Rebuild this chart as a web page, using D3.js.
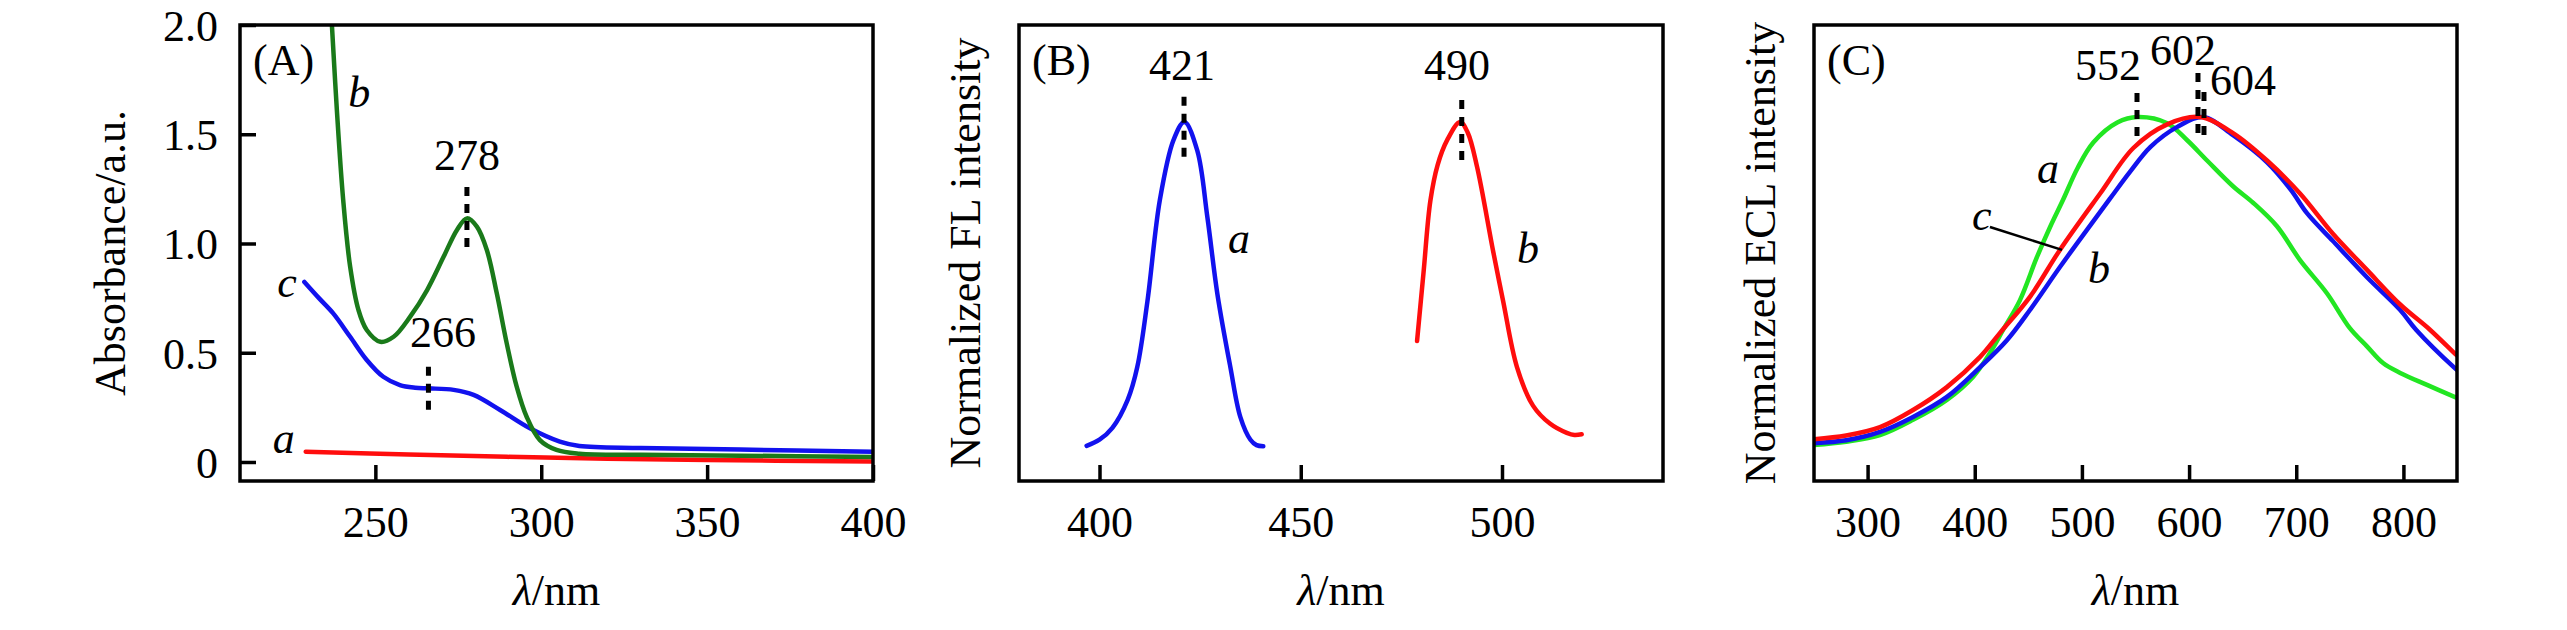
<!DOCTYPE html>
<html>
<head>
<meta charset="utf-8">
<title>Absorption, FL and ECL spectra</title>
<style>
  body { margin: 0; background: #fff; }
  svg text { font-family: "Liberation Serif", "Times New Roman", serif; font-size: 44px; fill: #000; }
  .frame { fill: none; stroke: #000; stroke-width: 3.5; }
  .tick line { stroke: #000; stroke-width: 3.5; }
  .curve { fill: none; stroke-width: 4.5; stroke-linejoin: round; stroke-linecap: round; }
  .peak { stroke: #000; stroke-width: 5; stroke-dasharray: 9 8; }
  .leader { stroke: #000; stroke-width: 2.5; }
</style>
</head>
<body>
<div id="chart"></div>
<script src="https://d3js.org/d3.v7.min.js"></script>
<script>

// ---- (A) UV-vis absorbance, [wavelength nm, absorbance]
var absA = [[229, 0.047], [260, 0.034], [305, 0.019], [350, 0.009], [400, 0.002]];
var absB = [[236, 2.2], [236.9, 2.0], [238.4, 1.61], [240.3, 1.2], [242.4, 0.894],
            [244.9, 0.696], [247.4, 0.604], [251.5, 0.55], [255.5, 0.573], [260.5, 0.665],
            [265.6, 0.787], [270.6, 0.94], [274.6, 1.062], [277.6, 1.115], [280.6, 1.077],
            [283.6, 0.97], [286.6, 0.772], [289.6, 0.543], [292.6, 0.345], [295.6, 0.207],
            [299.6, 0.1], [304.6, 0.055], [311.5, 0.038], [330, 0.033], [360, 0.029],
            [400, 0.023]];
var absC = [[228.6, 0.824], [233, 0.75], [237.3, 0.68], [242.4, 0.573], [247.4, 0.467],
            [252.4, 0.39], [257.4, 0.352], [262, 0.34], [266, 0.337], [273.6, 0.33],
            [279.6, 0.307], [287.6, 0.238], [296.6, 0.154], [305.6, 0.093], [311.5, 0.073],
            [330, 0.064], [360, 0.057], [400, 0.047]];

// ---- (B) normalized fluorescence
var flA = [[396.8, 0.098], [400, 0.115], [403.2, 0.148], [407, 0.226], [409.4, 0.318],
           [411.9, 0.5], [415, 0.783], [418.4, 0.95], [421.1, 1.0], [424.3, 0.92],
           [426.8, 0.735], [429.3, 0.52], [432.5, 0.318], [435, 0.178], [437.5, 0.115],
           [439, 0.1], [440.7, 0.097]];
var flB = [[478.9, 0.39], [480.5, 0.58], [482.2, 0.78], [484, 0.88], [486.4, 0.95],
           [489.6, 1.0], [491.5, 0.97], [493.8, 0.875], [497.8, 0.64], [500.3, 0.5],
           [503.7, 0.318], [507.7, 0.21], [511.9, 0.16], [516.1, 0.134], [518, 0.128],
           [519.8, 0.13]];

// ---- (C) normalized ECL
var eclA = [[250, 0.099], [280, 0.108], [311.6, 0.126], [342.4, 0.168], [374, 0.223],
            [398.4, 0.286], [414.2, 0.352], [426.4, 0.415], [442.2, 0.497], [458, 0.615],
            [470.3, 0.698], [482.3, 0.772], [496, 0.86], [510.6, 0.93], [533, 0.985],
            [552, 1.0], [579.6, 0.983], [598, 0.937], [617, 0.88], [641, 0.81], [660, 0.764],
            [682, 0.7], [703.5, 0.607], [728.6, 0.516], [750, 0.42], [766, 0.37], [781, 0.324],
            [797, 0.297], [822, 0.264], [850, 0.228]];
var eclB = [[250, 0.104], [280, 0.112], [311.6, 0.135], [342.4, 0.176], [374, 0.231],
            [405, 0.313], [430, 0.387], [451.5, 0.47], [479.5, 0.588], [504.7, 0.69],
            [526, 0.775], [545, 0.85], [564, 0.918], [589, 0.973], [613, 1.0], [641, 0.95],
            [673, 0.875], [695, 0.8], [710, 0.736], [734, 0.66], [766, 0.56], [797, 0.47],
            [812, 0.415], [848, 0.31], [850, 0.305]];
var eclC = [[250, 0.115], [280, 0.125], [311.6, 0.148], [342.4, 0.195], [374, 0.258],
            [405, 0.341], [423.6, 0.407], [451.5, 0.506], [479.5, 0.635], [517, 0.79],
            [548, 0.915], [579.6, 0.98], [610, 1.0], [641, 0.956], [673, 0.88],
            [703.5, 0.79], [734, 0.68], [766, 0.58], [797, 0.485], [825, 0.415],
            [848, 0.35], [850, 0.345]];

// ticks
var xTicksA = [250, 300, 350, 400];
var yTicksA = [0, 0.5, 1.0, 1.5, 2.0];
var xTicksB = [400, 450, 500];
var xTicksC = [300, 400, 500, 600, 700, 800];

// peak markers: x, dash from y1 to y2, label text at (tx, ty)
var peaksA = [{x: 277.6, y1: 1.259, y2: 0.984, t: "278", tx: 277.6, ty: 1.336},
              {x: 266, y1: 0.436, y2: 0.238, t: "266", tx: 270.4, ty: 0.528}];
var peaksB = [{x: 421, y1: 1.07, y2: 0.9, t: "421", tx: 420.5, ty: 1.117},
              {x: 490, y1: 1.061, y2: 0.894, t: "490", tx: 488.8, ty: 1.117}];
var peaksC = [{x: 551.4, y1: 1.066, y2: 0.945, t: "552", tx: 524.3, ty: 1.102},
              {x: 608.3, y1: 1.121, y2: 0.945, t: "602", tx: 594.3, ty: 1.143},
              {x: 613.9, y1: 1.069, y2: 0.945, t: "604", tx: 650.3, ty: 1.06}];

// curve letters
var namesA = [{t: "a", x: 219.1, y: 0.041}, {t: "b", x: 241.8, y: 1.625}, {t: "c", x: 220.4, y: 0.755}];
var namesB = [{t: "a", x: 431.9, y: 0.635}, {t: "b", x: 503.7, y: 0.607}];
var namesC = [{t: "a", x: 458, y: 0.819}, {t: "b", x: 505.7, y: 0.544}, {t: "c", x: 397.4, y: 0.69}];
var leaderC = [[414.2, 0.698], [481.4, 0.635]];

var W = 2567, H = 630, plotTop = 25, plotBottom = 481;

var svg = d3.select("#chart").append("svg")
    .attr("width", W)
    .attr("height", H)
    .style("background", "#fff");

var panels = [
    {id: "A", left: 240, right: 873, xd: [209.2, 400], yd: [-0.087, 2.0],
     xTicks: xTicksA, yTicks: yTicksA, ytitle: "Absorbance/a.u.", ytx: 125,
     curves: [{d: absA, c: "#ff0d0d"}, {d: absC, c: "#1212ee"}, {d: absB, c: "#1a7a1a"}],
     peaks: peaksA, names: namesA},
    {id: "B", left: 1019, right: 1663, xd: [380, 540], yd: [0, 1.27],
     xTicks: xTicksB, ytitle: "Normalized FL intensity", ytx: 980,
     curves: [{d: flA, c: "#1212ee"}, {d: flB, c: "#ff0d0d"}],
     peaks: peaksB, names: namesB},
    {id: "C", left: 1814, right: 2457, xd: [250, 850], yd: [0, 1.253],
     xTicks: xTicksC, ytitle: "Normalized ECL intensity", ytx: 1775,
     curves: [{d: eclA, c: "#22e622"}, {d: eclB, c: "#1212ee"}, {d: eclC, c: "#ff0d0d"}],
     peaks: peaksC, names: namesC, leader: leaderC}
];

panels.forEach(drawPanel);

function drawPanel(p) {
    var x = d3.scaleLinear().domain(p.xd).range([p.left, p.right]);
    var y = d3.scaleLinear().domain(p.yd).range([plotBottom, plotTop]);
    var g = svg.append("g");

    g.append("clipPath").attr("id", "clip" + p.id)
        .append("rect")
        .attr("x", p.left).attr("y", plotTop)
        .attr("width", p.right - p.left).attr("height", plotBottom - plotTop);

    // smooth spectra
    var line = d3.line()
        .x(function(d) { return x(d[0]); })
        .y(function(d) { return y(d[1]); })
        .curve(d3.curveCatmullRom.alpha(0.5));

    g.append("g").attr("clip-path", "url(#clip" + p.id + ")")
        .selectAll("path")
        .data(p.curves)
        .enter().append("path")
        .attr("class", "curve")
        .attr("stroke", function(c) { return c.c; })
        .attr("d", function(c) { return line(c.d); });

    // peak markers
    g.selectAll(".peak")
        .data(p.peaks)
        .enter().append("line")
        .attr("class", "peak")
        .attr("x1", function(d) { return x(d.x); })
        .attr("x2", function(d) { return x(d.x); })
        .attr("y1", function(d) { return y(d.y1); })
        .attr("y2", function(d) { return y(d.y2); });

    g.selectAll(".peaklabel")
        .data(p.peaks)
        .enter().append("text")
        .attr("class", "peaklabel")
        .attr("text-anchor", "middle")
        .attr("x", function(d) { return x(d.tx); })
        .attr("y", function(d) { return y(d.ty); })
        .text(function(d) { return d.t; });

    g.selectAll(".name")
        .data(p.names)
        .enter().append("text")
        .attr("class", "name")
        .style("font-style", "italic")
        .attr("x", function(d) { return x(d.x); })
        .attr("y", function(d) { return y(d.y); })
        .text(function(d) { return d.t; });

    if (p.leader) {
        g.append("line").attr("class", "leader")
            .attr("x1", x(p.leader[0][0])).attr("y1", y(p.leader[0][1]))
            .attr("x2", x(p.leader[1][0])).attr("y2", y(p.leader[1][1]));
    }

    // frame
    g.append("rect").attr("class", "frame")
        .attr("x", p.left).attr("y", plotTop)
        .attr("width", p.right - p.left).attr("height", plotBottom - plotTop);

    // x axis, ticks pointing inward
    g.append("g")
        .attr("transform", "translate(0," + plotBottom + ")")
        .call(d3.axisBottom(x).tickValues(p.xTicks).tickSizeInner(-16).tickSizeOuter(0))
        .call(function(a) {
            a.select(".domain").remove();
            a.selectAll("text").attr("y", 56).attr("dy", null);
        });

    if (p.yTicks) {
        g.append("g")
            .attr("transform", "translate(" + p.left + ",0)")
            .call(d3.axisLeft(y).tickValues(p.yTicks).tickSizeInner(-16).tickSizeOuter(0)
                .tickFormat(function(d) { return d === 0 ? "0" : d.toFixed(1); }))
            .call(function(a) {
                a.select(".domain").remove();
                a.selectAll("text").attr("x", -22).attr("dy", "0.35em");
            });
    }

    // panel tag
    g.append("text")
        .attr("x", p.left + 13)
        .attr("y", 75)
        .text("(" + p.id + ")");

    // axis titles
    var xt = g.append("text")
        .attr("text-anchor", "middle")
        .attr("x", (p.left + p.right) / 2)
        .attr("y", 605);
    xt.append("tspan").style("font-style", "italic").text("\u03bb");
    xt.append("tspan").text("/nm");

    g.append("text")
        .attr("text-anchor", "middle")
        .attr("transform", "translate(" + p.ytx + "," + (plotTop + plotBottom) / 2 + ") rotate(-90)")
        .text(p.ytitle);
}

</script>
</body>
</html>
